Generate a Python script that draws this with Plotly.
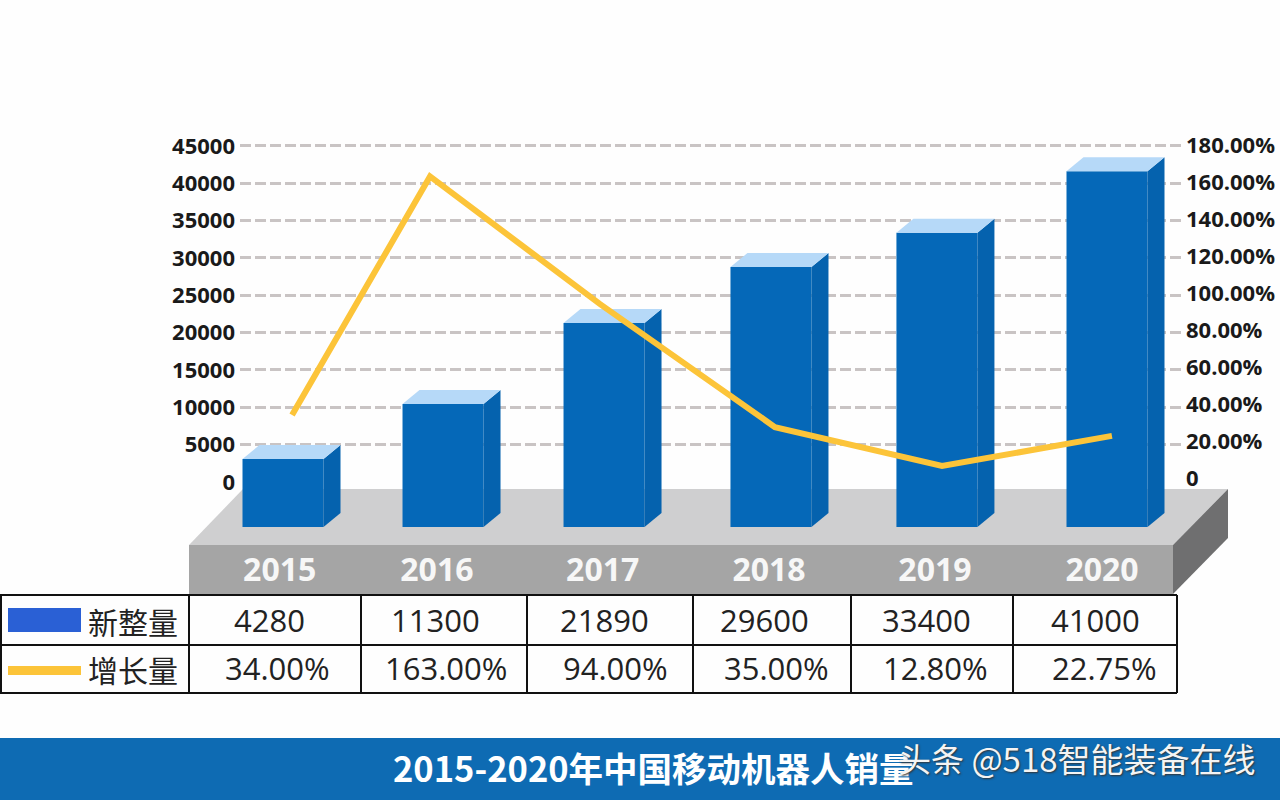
import plotly.graph_objects as go

# Values
years = ["2015", "2016", "2017", "2018", "2019", "2020"]
sales = [4280, 11300, 21890, 29600, 33400, 41000]
growth_labels = ["34.00%", "163.00%", "94.00%", "35.00%", "12.80%", "22.75%"]
# the drawn marks do not quite follow the table, so these are read off the marks
bar_heights = [4280, 11300, 21630, 28770, 33150, 41000]
growth_line = [34, 163, 94, 27.5, 6.5, 22.75]

# The slide places things by hand, so slots are not evenly spaced
bar_slots = [2015, 2015.971, 2016.948, 2017.961, 2018.968, 2020]
line_slots = [2015.055, 2015.892, 2016.924, 2017.985, 2018.999, 2020.03]
year_slots = [2014.98, 2015.934, 2016.94, 2017.949, 2018.956, 2019.97]

left_ticks = [0, 5000, 10000, 15000, 20000, 25000, 30000, 35000, 40000, 45000]
right_ticks = [0, 20, 40, 60, 80, 100, 120, 140, 160, 180]
right_labels = ["0", "20.00%", "40.00%", "60.00%", "80.00%", "100.00%",
                "120.00%", "140.00%", "160.00%", "180.00%"]

W, H = 1280, 800
PLOT_L, PLOT_R, PLOT_T, PLOT_B = 240, 1182, 140, 527

FRONT = "#0568b8"
SIDE = "#0562ae"
TOP = "#b6d9f8"
YELLOW = "#fcc439"
ZH = "Noto Sans CJK SC"
EN = "Open Sans"


def px(x):
    return x / W


def py(y):
    return 1 - y / H


def axis_range(v0, p0, per_px):
    # value range of the plot area, given one value's pixel row and the scale
    return [v0 - (PLOT_B - p0) * per_px, v0 + (p0 - PLOT_T) * per_px]


x_per_px = 1 / 164.8
bar_per_px = 1 / 0.00784
bar_range = axis_range(0, 492.6, bar_per_px)
floor = bar_range[0]
half = 0.5 * 81 * x_per_px
depth_x = 17 * x_per_px
depth_y = 14 * bar_per_px

fig = go.Figure()

# gridlines and labels for the left axis
fig.add_trace(go.Scatter(x=bar_slots, y=sales, yaxis="y", mode="lines",
                         line=dict(width=0), opacity=0, hoverinfo="skip", showlegend=False))

fig.add_trace(go.Bar(x=bar_slots, y=[v - floor for v in bar_heights], base=floor, yaxis="y2",
                     width=2 * half, marker=dict(color=FRONT, line=dict(width=0)),
                     showlegend=False))

# 3D sides and caps follow the bar values
for slot, v in zip(bar_slots, bar_heights):
    fig.add_trace(go.Scatter(
        x=[slot + half, slot + half + depth_x, slot + half + depth_x, slot + half],
        y=[v, v + depth_y, floor + depth_y, floor],
        yaxis="y2", mode="lines", fill="toself", fillcolor=SIDE,
        line=dict(width=0), hoverinfo="skip", showlegend=False))
    fig.add_trace(go.Scatter(
        x=[slot - half, slot + half, slot + half + depth_x, slot - half + depth_x],
        y=[v, v, v + depth_y, v + depth_y],
        yaxis="y2", mode="lines", fill="toself", fillcolor=TOP,
        line=dict(width=0), hoverinfo="skip", showlegend=False))

fig.add_trace(go.Scatter(x=line_slots, y=growth_line, yaxis="y3", mode="lines",
                         line=dict(color=YELLOW, width=6), showlegend=False))

shapes = []


def poly(points, color):
    d = "M " + " L ".join(f"{px(x):.5f},{py(y):.5f}" for x, y in points) + " Z"
    shapes.append(dict(type="path", xref="paper", yref="paper", path=d, fillcolor=color,
                       line=dict(width=0), layer="below"))


# platform under the bars
poly([(189, 545), (243, 489), (1228, 489), (1173, 545)], "#cfcfd0")
poly([(189, 545), (1173, 545), (1173, 594), (189, 594)], "#a5a5a5")
poly([(1173, 545), (1228, 489), (1228, 538), (1173, 594)], "#6f6f70")

# footer band
poly([(0, 738), (W, 738), (W, 800), (0, 800)], "#0e6bb3")


def rule(x0, y0, x1, y1):
    shapes.append(dict(type="line", xref="paper", yref="paper", x0=px(x0), y0=py(y0),
                       x1=px(x1), y1=py(y1), line=dict(color="#111111", width=2), layer="above"))


# table
rule(0, 595, 1177, 595)
rule(0, 645, 1177, 645)
rule(0, 693, 1177, 693)
for cx in [1, 189, 361, 527, 693, 851, 1013, 1177]:
    rule(cx, 595, cx, 693)

# legend keys in the first column
poly([(8, 608), (81, 608), (81, 632), (8, 632)], "#2a60d5")
poly([(8, 666), (81, 666), (81, 675), (8, 675)], YELLOW)

annotations = []


def label(text, x, y, size, color="#222222", family=EN, **kw):
    annotations.append(dict(text=text, x=px(x), y=py(y), xref="paper", yref="paper",
                            showarrow=False, xanchor="center", yanchor="middle",
                            font=dict(size=size, color=color, family=family, **kw)))


sales_x = [269, 435, 604, 764, 926, 1095]
growth_x = [277, 446, 615, 776, 935, 1104]
for i in range(len(years)):
    label(str(sales[i]), sales_x[i], 620, 31)
    label(growth_labels[i], growth_x[i], 668, 31)

label("新整量", 133, 621, 30, family=ZH)
label("增长量", 133, 669, 30, family=ZH)
label("2015-2020年中国移动机器人销量", 653, 767, 34.5, color="white", family=ZH, weight="bold")
label("头条 @518智能装备在线", 1077, 758, 33, color="#f4f4f4", family=ZH,
      shadow="1px 1px 2px #333333")

axis_font = dict(size=22, color="#1a1a1a", family=EN, weight="bold")
domain_x = [px(PLOT_L), px(PLOT_R)]
domain_y = [py(PLOT_B), py(PLOT_T)]

fig.update_layout(
    width=W, height=H, autosize=False,
    margin=dict(l=0, r=0, t=0, b=0),
    paper_bgcolor="#fefefe", plot_bgcolor="rgba(0,0,0,0)",
    shapes=shapes, annotations=annotations,
    xaxis=dict(domain=domain_x, range=[2015 + (PLOT_L - 283) * x_per_px, 2015 + (PLOT_R - 283) * x_per_px],
               automargin=False, tickmode="array", tickvals=year_slots, ticktext=years,
               ticks="outside", ticklen=15, tickcolor="rgba(0,0,0,0)",
               tickfont=dict(size=32, color="#f7f7f7", family=EN, weight="bold"),
               showgrid=False, zeroline=False, showline=False),
    yaxis=dict(domain=domain_y, range=axis_range(0, 482, 1 / 0.00747),
               automargin=False, tickmode="array", tickvals=left_ticks, tickformat="d", tickfont=axis_font,
               ticks="", ticklabelstandoff=4,
               showgrid=True, gridcolor="#c9c4c4", gridwidth=3, griddash="11px,4px",
               zeroline=True, zerolinecolor="rgba(0,0,0,0)", showline=False),
    yaxis2=dict(domain=domain_y, range=bar_range, overlaying="y", visible=False, automargin=False),
    yaxis3=dict(domain=domain_y, range=axis_range(0, 478, 1 / 1.85), overlaying="y", side="right",
                automargin=False, tickmode="array", tickvals=right_ticks, ticktext=right_labels,
                tickfont=axis_font, ticks="", ticklabelstandoff=3,
                showgrid=False, zeroline=False, showline=False),
)

# the default page margin would push the figure off the window
fig.write_html("out.html", config={"displayModeBar": False},
               post_script="document.body.style.margin = '0';")
